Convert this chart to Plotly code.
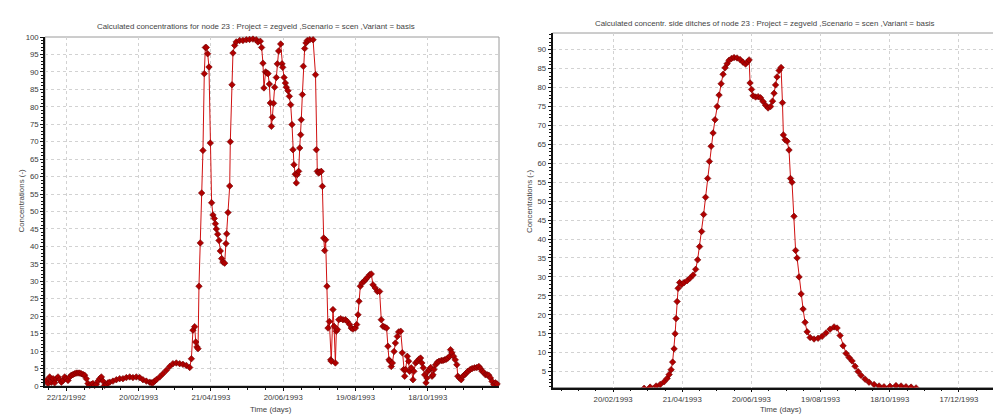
import pandas as pd
import plotly.graph_objects as go

LEFT_TITLE = "Calculated concentrations for node 23 : Project = zegveld ,Scenario = scen ,Variant = basis"
RIGHT_TITLE = "Calculated concentr. side ditches of node 23 : Project = zegveld ,Scenario = scen ,Variant = basis"
X_TITLE = "Time (days)"
Y_TITLE = "Concentrations (-)"

# ---- left chart: concentration at node 23 (days after 22/12/1992) ----
left_base = "1992-12-22"
left_days = [
    -16.6, -15.2, -13.8, -12.4, -11.0, -9.7, -8.3, -6.9, -5.5, -4.1, -2.7, -1.4, 0.0, 1.4, 2.8,
    4.2, 5.6, 6.9, 8.3, 9.7, 11.1, 12.5, 13.9, 15.2, 16.6, 18.0, 19.4, 20.8, 22.1, 23.5, 24.9,
    26.3, 27.7, 29.1, 30.4, 31.8, 33.2, 34.6, 36.0, 38.7, 41.5, 44.3, 47.0, 49.8, 52.6, 55.3,
    58.1, 60.9, 63.6, 66.4, 69.2, 70.6, 71.9, 73.3, 74.7, 77.5, 80.2, 83.0, 85.8, 88.5, 91.3,
    94.1, 96.8, 99.6, 102.4, 103.8, 105.1, 106.5, 107.4, 108.4, 109.3, 110.1, 111.2, 112.3,
    113.4, 114.5, 115.4, 116.2, 117.3, 118.4, 119.5, 120.6, 121.7, 122.8, 123.7, 124.5, 125.6,
    126.7, 127.8, 128.9, 130.0, 131.4, 132.5, 133.1, 134.2, 135.6, 136.1, 137.5, 138.3, 139.7,
    141.0, 143.9, 146.6, 149.4, 152.1, 154.9, 157.6, 159.0, 161.0, 162.1, 163.2, 164.0, 165.4,
    166.5, 167.4, 168.5, 169.3, 170.2, 171.0, 172.0, 172.9, 174.3, 175.1, 176.2, 177.9, 179.0,
    179.6, 180.7, 181.8, 182.6, 184.0, 185.1, 186.2, 187.3, 188.1, 188.9, 190.0, 190.9, 191.7,
    192.8, 193.7, 194.5, 195.0, 195.9, 196.7, 197.8, 198.9, 200.0, 202.0, 204.8, 206.8, 207.5,
    208.3, 209.4, 210.2, 211.6, 212.5, 213.6, 214.4, 215.2, 216.3, 217.2, 218.3, 219.4, 219.9,
    221.3, 222.2, 223.3, 224.1, 225.0, 226.1, 227.7, 229.6, 231.6, 233.2, 235.2, 236.5, 237.9,
    239.9, 241.0, 242.1, 242.9, 244.0, 245.4, 247.1, 248.4, 249.8, 251.7, 253.1, 254.5, 256.4,
    258.1, 260.0, 261.4, 262.8, 264.2, 265.8, 266.9, 267.8, 268.6, 269.7, 270.6, 272.0, 273.1,
    274.7, 275.8, 277.5, 278.8, 279.9, 280.8, 281.6, 283.0, 284.1, 284.9, 286.3, 287.7, 288.5,
    289.9, 291.3, 292.7, 294.0, 295.1, 296.3, 297.4, 298.5, 299.3, 300.1, 301.2, 302.4, 303.5,
    304.3, 305.1, 306.5, 307.9, 309.3, 311.2, 312.6, 314.0, 315.4, 316.7, 318.1, 318.9, 320.0,
    321.4, 322.8, 324.1, 324.9, 326.3, 327.7, 329.1, 330.5, 331.9, 333.3, 335.2, 336.8, 338.8,
    340.7, 342.4, 343.7, 345.1, 346.5, 347.9, 349.3, 350.6, 352.0, 353.4, 354.8, 356.1, 357.5,
]
left_conc = [
    1.6, 0.7, 2.6, 1.1, 2.1, 0.9, 2.1, 2.6, 1.8, 1.1, 1.6, 2.6, 2.1, 1.6, 2.6,
    3.1, 3.3, 3.5, 3.7, 3.7, 3.7, 3.5, 3.3, 3.1, 2.1, 0.7, 0.2, 0.5, 0.7, 0.2, 0.5,
    1.4, 2.1, 2.6, 1.4, 0.2, 0.5, 0.9, 1.1, 1.4, 1.8, 2.1, 2.1, 2.4, 2.6, 2.4,
    2.6, 2.4, 1.8, 1.4, 1.1, 0.9, 0.9, 1.4, 1.8, 2.6, 3.5, 4.5, 5.6, 6.4, 6.6,
    6.4, 6.2, 5.9, 5.3, 7.8, 16.0, 17.0, 12.6, 11.2, 10.7, 28.6, 41.0, 55.3,
    67.5, 89.5, 97.0, 97.0, 95.2, 91.4, 69.6, 52.5, 49.0, 48.0, 46.5, 45.0, 43.5,
    41.7, 38.7, 36.5, 35.5, 35.2, 40.8, 43.6, 49.7, 57.3, 70.0, 86.3, 95.4, 97.6,
    98.6, 99.0, 99.0, 99.2, 99.3, 99.4, 99.2, 98.6, 98.8, 97.0, 92.5, 85.4, 90.0,
    89.7, 89.5, 86.5, 81.1, 74.4, 77.0, 81.0, 85.6, 88.4, 92.3, 96.0, 98.0, 92.3,
    91.3, 88.4, 86.8, 85.6, 84.6, 83.0, 80.6, 74.9, 67.7, 63.4, 60.7, 58.2, 60.6,
    61.5, 68.2, 72.0, 76.3, 83.5, 91.6, 96.7, 98.3, 99.0, 99.2, 99.2, 89.2, 67.7,
    61.5, 61.0, 61.3, 61.5, 57.2, 42.4, 38.8, 41.9, 28.6, 16.6, 18.5, 7.5, 7.1,
    21.9, 17.1, 6.6, 15.7, 16.2, 19.0, 19.3, 19.0, 19.0, 18.5, 17.6, 16.6, 16.3,
    16.6, 17.6, 20.4, 24.3, 28.6, 29.5, 30.0, 30.5, 31.1, 31.9, 32.1, 29.0, 28.1,
    27.1, 27.1, 19.0, 17.1, 16.9, 16.6, 11.4, 7.5, 7.1, 5.6, 6.6, 9.9, 12.3,
    14.2, 15.5, 15.7, 9.5, 4.7, 2.8, 4.7, 8.5, 7.1, 4.2, 5.2, 1.8, 4.2,
    6.6, 7.1, 7.7, 8.0, 6.6, 5.2, 3.2, 0.9, 2.3, 4.2, 4.7, 5.3, 2.8,
    3.2, 4.7, 6.1, 6.8, 7.1, 7.3, 7.3, 7.5, 7.7, 8.0, 8.5, 10.4, 9.5,
    8.5, 7.5, 6.1, 2.8, 2.3, 1.8, 2.8, 3.2, 3.7, 4.2, 4.7, 5.0, 5.2,
    5.3, 5.6, 5.0, 4.2, 3.9, 3.2, 3.2, 3.1, 2.3, 1.3, 0.4, 0.9, 0.6,
]

# ---- right chart: concentration in side ditches (days after 20/02/1993) ----
right_base = "1993-02-20"
right_days = [
    26.9, 32.1, 37.3, 40.8, 44.2, 46.8, 48.6, 50.3, 51.6, 52.9, 53.8, 54.6, 55.5, 56.4, 57.7,
    59.4, 61.6, 64.2, 66.8, 69.4, 71.6, 73.3, 75.0, 76.8, 78.5, 80.2, 82.0, 83.5, 85.0, 86.7,
    88.4, 90.2, 91.9, 93.7, 95.4, 97.1, 98.9, 100.6, 102.8, 104.9, 107.5, 110.1, 112.7, 114.9,
    116.7, 118.0, 118.8, 120.1, 121.4, 123.6, 125.8, 127.9, 130.1, 132.3, 134.4, 136.6, 138.3,
    139.6, 140.9, 142.2, 144.0, 145.7, 146.9, 147.7, 149.2, 150.9, 152.6, 153.9, 155.2, 156.9,
    158.3, 159.6, 161.3, 163.1, 164.8, 166.5, 168.3, 170.9, 174.3, 177.8, 181.3, 184.7, 188.2,
    191.7, 194.3, 196.9, 199.5, 202.1, 204.7, 207.3, 209.9, 212.5, 215.1, 218.6, 222.0, 226.4,
    230.7, 235.0, 240.2, 245.4, 249.8, 254.1, 258.5, 262.8,
]
right_conc = [
    0.6, 0.9, 1.2, 1.6, 2.3, 3.2, 4.2, 5.5, 7.5, 11.0, 15.0, 19.0, 23.5, 27.0, 28.5,
    28.0, 28.5, 29.0, 29.7, 30.5, 32.0, 34.5, 38.0, 42.0, 46.5, 51.0, 56.0, 60.5, 64.5, 68.0,
    71.5, 75.0, 78.0, 81.0, 83.5, 85.2, 86.3, 87.2, 87.7, 87.9, 87.8, 87.4, 86.7, 86.2,
    86.8, 87.3, 81.2, 79.5, 77.8, 77.5, 77.6, 77.3, 76.3, 75.3, 74.6, 75.0, 76.4,
    78.5, 80.7, 82.8, 84.5, 85.3, 76.0, 67.5, 66.2, 65.8, 63.5, 56.0, 55.0, 46.0,
    37.0, 35.0, 30.0, 25.5, 21.5, 18.0, 15.5, 14.0, 13.6, 13.8, 14.3, 15.2, 16.2,
    16.8, 16.5, 14.5, 11.8, 9.8, 8.7, 7.8, 6.4, 5.0, 4.0, 3.0, 2.2, 1.6,
    1.2, 1.0, 1.1, 1.3, 1.2, 1.0, 0.9, 0.7,
]

FONT = "Liberation Sans"
DAY_MS = 86400000
GRID = "#d2d2d2"
TICK_SIZE = 7.8
TEXT_SIZE = 7.9


def to_dates(base, days):
    return pd.Timestamp(base) + pd.to_timedelta(days, unit="D")


left_x = to_dates(left_base, left_days)
right_x = to_dates(right_base, right_days)

marker = dict(symbol="diamond", size=5, color="#b00000", line=dict(color="#700000", width=0.6))
line = dict(color="#d01010", width=1)

fig = go.Figure()
fig.add_trace(go.Scatter(x=left_x, y=left_conc, mode="lines+markers", marker=marker, line=line,
                         xaxis="x", yaxis="y", cliponaxis=False, showlegend=False))
fig.add_trace(go.Scatter(x=right_x, y=right_conc, mode="lines+markers", marker=marker, line=line,
                         xaxis="x2", yaxis="y2", cliponaxis=True, showlegend=False))


def xaxis(domain, tick0, rng, anchor):
    return dict(
        domain=domain, anchor=anchor, type="date", range=rng,
        tickmode="linear", tick0=tick0, dtick=60 * DAY_MS, tickformat="%d/%m/%Y",
        showgrid=True, gridcolor=GRID, griddash="dot", gridwidth=1,
        showline=True, linecolor="#111111", linewidth=1.5,
        ticks="outside", ticklen=3, tickcolor="#111111",
        tickfont=dict(family=FONT, size=TICK_SIZE, color="#3a3a3a"),
        minor=dict(ticks="outside", ticklen=2, dtick=15 * DAY_MS, tick0=tick0,
                   tickcolor="#111111", showgrid=False),
        zeroline=False, automargin=False,
    )


def yaxis(domain, rng, tickvals_start, anchor):
    return dict(
        domain=domain, anchor=anchor, range=rng,
        tickmode="linear", tick0=tickvals_start, dtick=5,
        showgrid=True, gridcolor=GRID, griddash="dot", gridwidth=1,
        showline=True, linecolor="#111111", linewidth=1.5,
        ticks="outside", ticklen=3, tickcolor="#111111",
        tickfont=dict(family=FONT, size=TICK_SIZE, color="#3a3a3a"),
        minor=dict(ticks="outside", ticklen=2, dtick=1, tickcolor="#111111", showgrid=False),
        zeroline=False, automargin=False,
    )


W, H = 1001, 415
lx0, lx1, ly0, ly1 = 37, 491, 29, 378
rx0, rx1, ry0, ry1 = 544.5, 993, 25, 379.5

left_range = [to_dates(left_base, [-17.7])[0], to_dates(left_base, [359.1])[0]]
right_range = [to_dates(right_base, [-52.6])[0], to_dates(right_base, [336.5])[0]]

fig.update_layout(
    width=W, height=H, margin=dict(l=0, r=0, t=0, b=0),
    paper_bgcolor="white", plot_bgcolor="white",
    font=dict(family=FONT, color="#3a3a3a"),
    xaxis=xaxis([lx0 / W, lx1 / W], left_base, left_range, "y"),
    yaxis=yaxis([1 - ly1 / H, 1 - ly0 / H], [0, 100], 0, "x"),
    xaxis2=xaxis([rx0 / W, rx1 / W], right_base, right_range, "y2"),
    yaxis2=yaxis([1 - ry1 / H, 1 - ry0 / H], [0.8, 94.4], 5, "x2"),
)

# light grey frame (top/right) around both plot areas
for xr, yr in (("x domain", "y domain"), ("x2 domain", "y2 domain")):
    fig.add_shape(type="rect", xref=xr, yref=yr, x0=0, x1=1, y0=0, y1=1,
                  line=dict(color="#9a9a9a", width=1), layer="below")

ann = dict(showarrow=False, xref="paper", yref="paper",
           font=dict(family=FONT, size=TEXT_SIZE, color="#444444"))
fig.add_annotation(text=LEFT_TITLE, x=248 / W, y=1 - 18 / H, xanchor="center", yanchor="middle", **ann)
fig.add_annotation(text=RIGHT_TITLE, x=757 / W, y=1 - 15 / H, xanchor="center", yanchor="middle", **ann)
fig.add_annotation(text=X_TITLE, x=263 / W, y=1 - 401 / H, xanchor="center", yanchor="middle", **ann)
fig.add_annotation(text=X_TITLE, x=773 / W, y=1 - 401 / H, xanchor="center", yanchor="middle", **ann)
fig.add_annotation(text=Y_TITLE, x=13.5 / W, y=1 - 193 / H, xanchor="center", yanchor="middle",
                   textangle=-90, **ann)
fig.add_annotation(text=Y_TITLE, x=522 / W, y=1 - 193 / H, xanchor="center", yanchor="middle",
                   textangle=-90, **ann)

fig.write_html("out.html")
